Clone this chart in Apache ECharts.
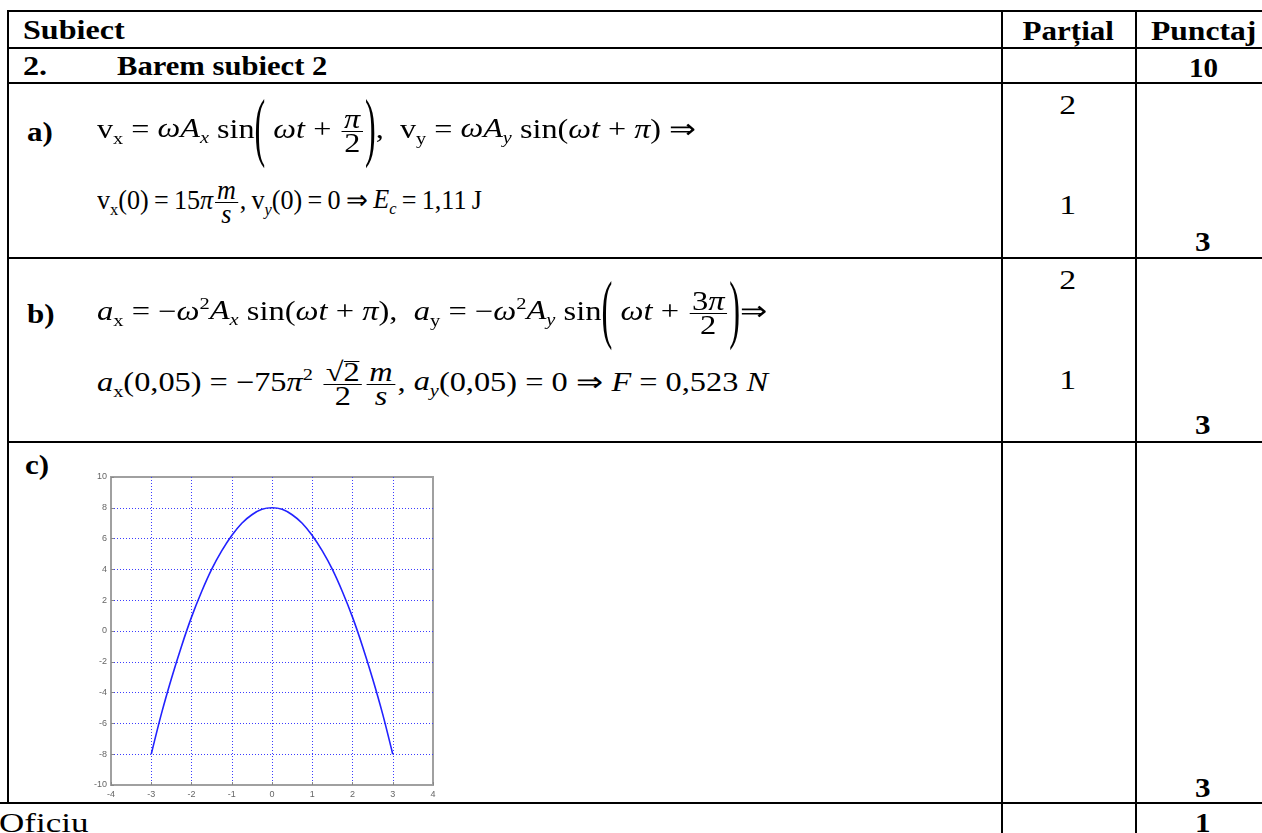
<!DOCTYPE html>
<html>
<head>
<meta charset="utf-8">
<script src="https://cdn.jsdelivr.net/npm/echarts@6/dist/echarts.min.js"></script>
<style>
	html, body { margin:0; padding:0; background:#fff; }
	#page { position:relative; width:1262px; height:833px; overflow:hidden; }
	.hl { position:absolute; height:2px; background:#000; }
	.vl { position:absolute; width:2px; background:#000; }
	.t { position:absolute; font-family:"Liberation Serif","Times New Roman",serif; font-size:27px; line-height:27px; white-space:nowrap; color:#000; }
	.h { font-size:28px; line-height:28px; }
	.b { font-weight:bold; }
	.t i { font-style:italic; }
	.t sub { font-size:17px; vertical-align:-6px; line-height:0; }
	.t sup { font-size:17px; vertical-align:11px; line-height:0; }
	.fr { display:inline-block; vertical-align:middle; text-align:center; margin:0 2px; }
	.fr > span { display:block; line-height:23px; padding:0 2px; }
	.fr > span.n { border-bottom:1.4px solid #000; }
	.bp { display:inline-block; transform:scaleY(2.8); font-weight:normal; }
	.rt { border-top:1.4px solid #000; line-height:20px; display:inline-block; }
	#chart { position:absolute; left:0; top:0; width:1262px; height:833px; }
</style>
</head>
<body>
<div id="page">
	<!-- table lines -->
	<div class="hl" style="left:7px;top:10px;width:1255px;"></div>
	<div class="hl" style="left:7px;top:47px;width:1255px;"></div>
	<div class="hl" style="left:7px;top:82px;width:1255px;"></div>
	<div class="hl" style="left:7px;top:257px;width:1255px;"></div>
	<div class="hl" style="left:7px;top:441px;width:1255px;"></div>
	<div class="hl" style="left:0px;top:802px;width:1262px;"></div>
	<div class="vl" style="left:7px;top:10px;height:794px;"></div>
	<div class="vl" style="left:1001px;top:10px;height:823px;"></div>
	<div class="vl" style="left:1135px;top:10px;height:823px;"></div>

	<!-- header -->
	<div class="t b h" data-x="23" data-y="30" data-w="102">Subiect</div>
	<div class="t b h" data-x="1068" data-y="31" data-w="91" data-a="c">Parțial</div>
	<div class="t b h" data-x="1203" data-y="31" data-w="105" data-a="c">Punctaj</div>

	<div class="t b h" data-x="23" data-y="66" data-k="1.15">2.</div>
	<div class="t b h" data-x="117" data-y="66" data-w="210">Barem subiect 2</div>
	<div class="t b" data-x="1203" data-y="68" data-w="29" data-a="c">10</div>

	<!-- a) -->
	<div class="t b" data-x="27" data-y="132" data-k="1.15">a)</div>
	<div class="t" data-x="97" data-y="131" data-w="600">v<sub>x</sub> = <i>ωA<sub>x</sub></i> sin<span class="bp">(</span> <i>ωt</i> + <span class="fr"><span class="n"><i>π</i></span><span>2</span></span><span class="bp">)</span>, &nbsp;v<sub>y</sub> = <i>ωA<sub>y</sub></i> sin(<i>ωt</i> + <i>π</i>) ⇒</div>
	<div class="t" data-x="97" data-y="202" data-w="385">v<sub>x</sub>(0)&thinsp;=&thinsp;15<i>π</i><span class="fr"><span class="n"><i>m</i></span><span><i>s</i></span></span>,&thinsp;v<sub><i>y</i></sub>(0)&thinsp;=&thinsp;0&thinsp;⇒&thinsp;<i>E<sub>c</sub></i>&thinsp;=&thinsp;1,11&thinsp;J</div>
	<div class="t" data-x="1068" data-y="105" data-k="1.25" data-a="c">2</div>
	<div class="t" data-x="1068" data-y="205" data-k="1.25" data-a="c">1</div>
	<div class="t b" data-x="1203" data-y="242" data-k="1.15" data-a="c">3</div>

	<!-- b) -->
	<div class="t b" data-x="27" data-y="314" data-k="1.15">b)</div>
	<div class="t" data-x="97" data-y="313" data-w="671"><i>a</i><sub>x</sub> = −<i>ω</i><sup>2</sup><i>A<sub>x</sub></i> sin(<i>ωt</i> + <i>π</i>), &nbsp;<i>a</i><sub>y</sub> = −<i>ω</i><sup>2</sup><i>A<sub>y</sub></i> sin<span class="bp">(</span> <i>ωt</i> + <span class="fr"><span class="n">3<i>π</i></span><span>2</span></span><span class="bp">)</span>⇒</div>
	<div class="t" data-x="97" data-y="384" data-w="671"><i>a</i><sub>x</sub>(0,05) = −75<i>π</i><sup>2</sup> <span class="fr"><span class="n">√<span class="rt">2</span></span><span>2</span></span><span class="fr"><span class="n"><i>m</i></span><span><i>s</i></span></span>, <i>a<sub>y</sub></i>(0,05) = 0 ⇒ <i>F</i> = 0,523 <i>N</i></div>
	<div class="t" data-x="1068" data-y="280" data-k="1.25" data-a="c">2</div>
	<div class="t" data-x="1068" data-y="380" data-k="1.25" data-a="c">1</div>
	<div class="t b" data-x="1203" data-y="425" data-k="1.15" data-a="c">3</div>

	<!-- c) -->
	<div class="t b" data-x="25" data-y="465" data-k="1.15">c)</div>
	<div class="t b" data-x="1203" data-y="788" data-k="1.15" data-a="c">3</div>

	<!-- Oficiu -->
	<div class="t h" data-x="-1" data-y="823" data-w="90">Oficiu</div>
	<div class="t b" data-x="1203" data-y="823" data-k="1.15" data-a="c">1</div>

	<div id="chart"></div>
</div>

<script type="text/javascript">
	// curve in c)
	var curveX = [-3, -2.75, -2.5, -2.25, -2, -1.75, -1.5, -1.25, -1, -0.75, -0.5, -0.25, 0,
	              0.25, 0.5, 0.75, 1, 1.25, 1.5, 1.75, 2, 2.25, 2.5, 2.75, 3];
	var curveY = [-8, -5.4, -3.1, -1.0, 0.9, 2.55, 4.0, 5.2, 6.2, 7.0, 7.55, 7.9, 8,
	              7.9, 7.55, 7.0, 6.2, 5.2, 4.0, 2.55, 0.9, -1.0, -3.1, -5.4, -8];
	var xRange = [-4, 4];
	var yRange = [-10, 10];

	// place the texts (the scan is stretched sideways)
	function placeTexts() {
		var els = document.querySelectorAll('.t');
		for (var i = 0; i < els.length; i++) {
			var el = els[i];
			var nw = el.offsetWidth, nh = el.offsetHeight;
			var x = parseFloat(el.getAttribute('data-x'));
			var y = parseFloat(el.getAttribute('data-y'));
			var w = el.getAttribute('data-w');
			var k = w ? parseFloat(w) / nw : parseFloat(el.getAttribute('data-k') || '1.2');
			var c = el.getAttribute('data-a') == 'c';
			el.style.left = (c ? x - nw / 2 : x) + 'px';
			el.style.top = (y - nh / 2) + 'px';
			el.style.transformOrigin = c ? '50% 50%' : '0 50%';
			el.style.transform = 'scaleX(' + k + ')';
		}
	}
	placeTexts();

	var points = [];
	for (var i = 0; i < curveX.length; i++) points.push([curveX[i], curveY[i]]);

	var gridLine = { show: true, showMinLine: false, showMaxLine: false, lineStyle: { color: '#3c3cff', type: [1, 2], width: 1 } };
	var axisLab = { fontSize: 9, color: '#666', fontFamily: 'Liberation Sans' };

	var chart = echarts.init(document.getElementById('chart'));
	chart.setOption({
		animation: false,
		grid: { left: 111, top: 477, width: 322, height: 308, show: true, borderColor: '#a0a0a0', borderWidth: 2 },
		xAxis: {
			type: 'value', min: xRange[0], max: xRange[1], interval: 1,
			axisLine: { show: true, onZero: false, lineStyle: { color: '#a0a0a0', width: 2 } },
			axisTick: { show: true, inside: true, length: 3, lineStyle: { color: '#888' } },
			axisLabel: Object.assign({ margin: 5 }, axisLab),
			splitLine: gridLine
		},
		yAxis: {
			type: 'value', min: yRange[0], max: yRange[1], interval: 2,
			axisLine: { show: true, onZero: false, lineStyle: { color: '#a0a0a0', width: 2 } },
			axisTick: { show: true, inside: true, length: 3, lineStyle: { color: '#888' } },
			axisLabel: Object.assign({ margin: 4 }, axisLab),
			splitLine: gridLine
		},
		series: [{
			type: 'line',
			data: points,
			smooth: 0.3,
			showSymbol: false,
			lineStyle: { color: '#2222ff', width: 1.6 }
		}]
	});
</script>
</body>
</html>
